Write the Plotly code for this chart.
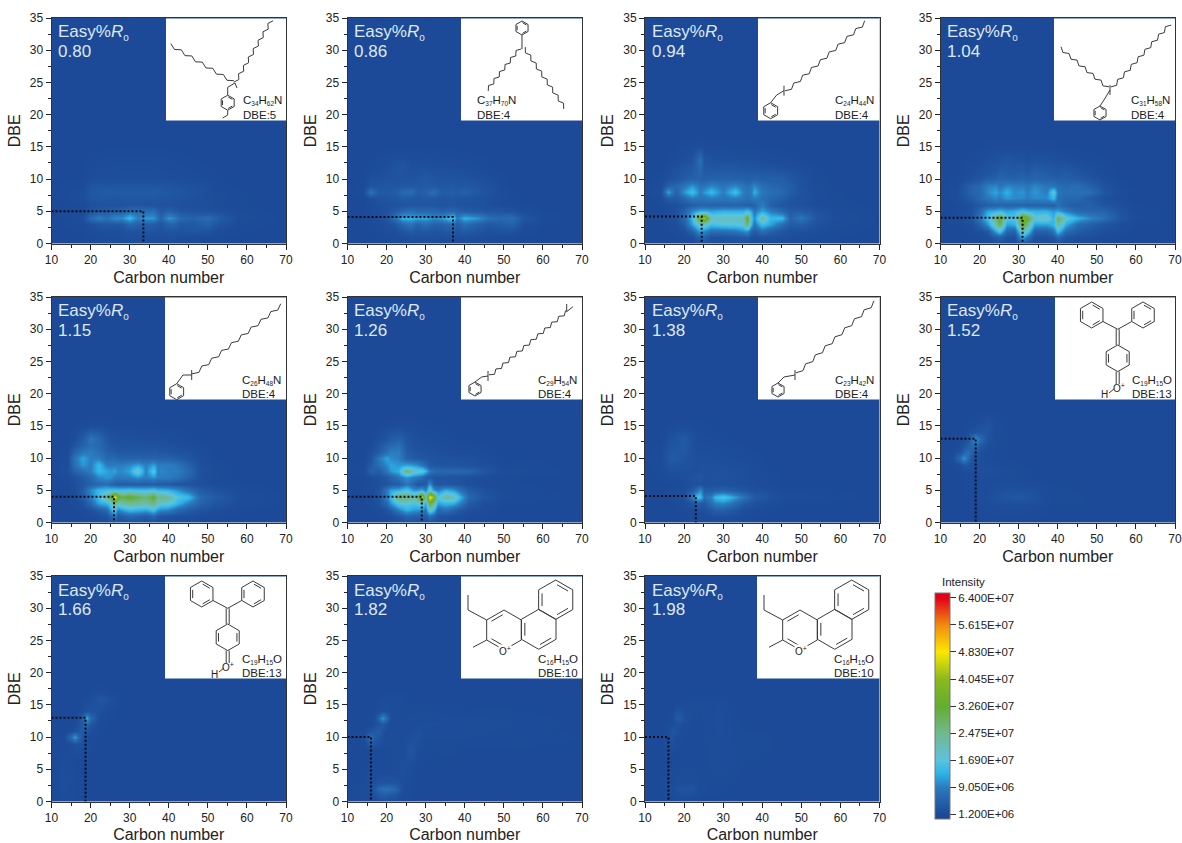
import math
import plotly.graph_objects as go

W, H = 1182, 843
BASE = 1.2

RO = ["0.80", "0.86", "0.94", "1.04", "1.15", "1.26", "1.38", "1.52", "1.66", "1.82", "1.98"]
FORMULA = ["C<sub>34</sub>H<sub>62</sub>N", "C<sub>37</sub>H<sub>70</sub>N", "C<sub>24</sub>H<sub>44</sub>N",
           "C<sub>31</sub>H<sub>58</sub>N", "C<sub>26</sub>H<sub>48</sub>N", "C<sub>29</sub>H<sub>54</sub>N",
           "C<sub>23</sub>H<sub>42</sub>N", "C<sub>19</sub>H<sub>15</sub>O", "C<sub>19</sub>H<sub>15</sub>O",
           "C<sub>16</sub>H<sub>15</sub>O", "C<sub>16</sub>H<sub>15</sub>O"]
MARK_DBE = [5, 4.1, 4.2, 4, 4, 4, 4.1, 13, 13, 10, 10]
MARK_DBE_LABEL = [5, 4, 4, 4, 4, 4, 4, 13, 13, 10, 10]
MARK_C = [33.5, 37, 24.5, 31, 26, 29, 23, 19, 18.7, 16, 16]

COLORBAR_TICKS = [1.2e6, 9.05e6, 1.69e7, 2.475e7, 3.26e7, 4.045e7, 4.83e7, 5.615e7, 6.4e7]
COLORBAR_TEXT = ["1.200E+06", "9.050E+06", "1.690E+07", "2.475E+07", "3.260E+07",
                 "4.045E+07", "4.830E+07", "5.615E+07", "6.400E+07"]

# intensities in units of 1e6, rows keyed by DBE; a row may stop early (the rest is background)
C1 = [10, 18, 20, 22, 24, 26, 28, 30, 32, 34, 36, 38, 40, 41, 43, 46, 50, 53, 58, 70]
Z1 = {
 0: [1.2,1.2,1.3,1.4,1.4,1.4,1.5,1.8,1.8,1.7,1.5,1.4,1.4,1.4,1.3,1.3],
 1: [1.2,1.2,1.4,1.5,1.6,1.6,1.7,2,2,2,1.9,1.8,2,2,1.8,1.6,1.4,1.3],
 2: [1.2,1.3,1.6,1.8,2,2,2.2,2.5,2.5,3,2.8,2.4,2.8,3,2.5,3,2.5,1.5,1.3],
 3: [1.2,1.4,2.5,3,3.5,3.5,3.5,6,5,4.5,4,3,5,5.5,3.5,3.5,5,2.5,1.4],
 4: [1.2,1.8,6,9,7,10,10,14,9,11,11,5,11,10,6,5,6.5,4,1.6],
 5: [1.2,1.5,3,4,4,5,5,7,7,6.5,7,3.5,5,4.5,3,2.6,2.5,2,1.4],
 6: [1.2,1.4,2,2.5,2.5,2.6,2.6,2.8,2.8,2.6,2.8,2.5,2.5,2.4,2.2,2,1.8,1.5,1.3],
 7: [1.2,1.7,3,3.2,3.2,3.2,3.2,3.2,3.2,3.2,3.2,3,3,2.8,2.6,2.2,1.8,1.5,1.3],
 8: [1.2,1.7,3.4,3.6,4,3.6,4,3.8,4,3.8,4,3.8,3.4,3.2,3,2.4,1.9,1.5,1.3],
 9: [1.2,1.5,2.8,3,3,3,3,3,3,3,3,3,2.8,2.6,2.5,2.2,1.8,1.4],
 10: [1.2,1.3,1.8,2,2,2,2.1,2.1,2.1,2.1,2,2,2,1.9,1.8,1.6,1.4,1.3],
 12: [1.2,1.2,1.5,1.6,1.7,1.7,1.7,1.7,1.7,1.7,1.7,1.6,1.6,1.5,1.5,1.4,1.3],
 14: [1.2,1.2,1.3,1.3,1.4,1.4,1.4,1.4,1.4,1.4,1.4,1.4,1.3,1.3,1.3],
}

C2 = [10, 14, 16, 18, 20, 22, 24, 26, 28, 30, 32, 34, 37, 38, 40, 43, 46, 49, 52, 55, 60, 70]
Z2 = {
 0: [1.2,1.2,1.2,1.2,1.3,1.4,1.5,1.6,1.7,1.7,1.7,1.6,1.6,1.5,1.4,1.4,1.3],
 1: [1.2,1.2,1.2,1.3,1.4,1.6,1.8,2.2,2.2,2.2,2.2,2,2.2,2,2,1.8,1.6,1.5,1.4],
 2: [1.2,1.2,1.3,1.4,1.7,2,3,4,3,3.5,3,3,4,3,4,3,2.2,2.5,2.5,1.5],
 3: [1.2,1.2,1.4,1.6,2,3,6,8,5,7,5,5,7,4,7,5,3.5,4,5,2,1.3],
 4: [1.2,1.3,1.5,2,3,7,13,13,12,12,10,11,16,8,13,11,7,6,7,3,1.4],
 5: [1.2,1.2,1.5,1.8,2.5,4,6,7,6,6,6,5,6,5,4,3.5,3,3,2.5,1.8,1.3],
 6: [1.2,1.2,1.5,1.8,2.2,2.6,2.8,3,3,3,3,2.8,3,2.8,2.6,2.4,2,1.7,1.5,1.3],
 7: [1.2,1.3,2.2,2.6,3,3.4,3.8,3.6,3.4,3.6,3.4,3.2,3.2,3,3,2.6,2,1.7,1.4],
 8: [1.2,1.5,8,3.5,3.5,4,6,7,4,5,7,4,4.5,4,5,3.5,2.4,1.8,1.4],
 9: [1.2,1.4,3,3,3.2,3.2,3.5,3.6,3.6,3.6,3.6,3.4,3.6,3.2,3.6,3,2.2,1.6],
 10: [1.2,1.3,2,2.2,2.5,2.6,2.8,2.8,3,3.5,3,2.8,2.8,2.6,2.6,2.2,1.8,1.4],
 12: [1.2,1.2,1.4,1.6,1.8,2.6,3,2,2,2.2,2,1.8,1.8,1.7,1.6,1.5,1.4],
 14: [1.2,1.2,1.2,1.3,1.4,1.5,1.5,1.5,1.5,1.5,1.5,1.4,1.4,1.3,1.3],
}

C3 = [10, 14, 16, 18, 20, 22, 24, 25, 27, 30, 33, 35, 36, 37, 38, 40, 42, 45, 47, 50, 54, 58, 70]
Z3 = {
 0: [1.2,1.2,1.2,1.2,1.3,1.5,2.2,2.5,1.8,1.7,1.8,2,2,1.7,1.6,1.7,1.5,1.4,1.3,1.3],
 1: [1.2,1.2,1.2,1.3,1.5,2,5,5,2.5,2.4,3,3.5,4,2.4,2,2.6,2.2,2,1.8,1.6,1.4,1.3],
 2: [1.2,1.2,1.3,1.5,2,5,12,10,7,7,8,10,11,6,4,7,5,3,2.4,2.2,1.7,1.4],
 3: [1.2,1.2,1.4,1.8,4,12,20,20,15,17,17,18,28,14,8,15,12,7,4,4.5,2.5,1.6],
 4: [1.2,1.4,1.8,2.5,6,14,36,42,20,20,20,20,34,16,10,23,14,14,5,8,3,1.8],
 5: [1.2,1.3,1.6,2.2,5,10,13,13,12,13,13,13,15,12,8,12,9,6,4,4,2.4,1.6],
 6: [1.2,1.3,1.7,2.2,3,4,5,5,5,5,5,5,5,4.5,5,9,4.5,3,2.6,2.2,1.7,1.4],
 7: [1.2,1.5,4,4,6,9,8,8,9,8,9,8,7,8,9,7,6,4.5,3,2.4,1.6,1.3],
 8: [1.2,2,12,5,11,15,9,11,14,9,15,9,8,9,13,8,7,6,4,2.6,1.6,1.3],
 9: [1.2,1.6,5,6,8,11,8,8,10,8,10,8,7,8,10,7,6,5,4,2.4,1.5],
 10: [1.2,1.4,2.2,3,4,5,5,4.5,5,5,5,5,4.5,4.5,5,4.5,4.5,4.5,3.5,2.2,1.4],
 12: [1.2,1.2,1.5,2,2.6,3.2,6,3.5,3,3,3,2.8,2.8,2.8,2.6,2.4,2.2,2,1.8,1.5,1.3],
 13: [1.2,1.2,1.3,1.5,2,2.5,7,3,2.4,2.2,2.2,2,2,2,2,1.8,1.7,1.6,1.5,1.3],
 15: [1.2,1.2,1.2,1.3,1.5,1.6,1.8,1.6,1.5,1.5,1.4,1.4,1.4,1.4,1.3,1.3],
}

C4 = [10, 14, 18, 20, 22, 24, 25, 27, 29, 31, 32, 34, 37, 39, 40, 42, 45, 48, 52, 56, 60, 70]
Z4 = {
 0: [1.2,1.2,1.2,1.3,1.4,1.8,1.8,1.6,1.5,2.5,2,1.5,1.5,1.6,1.8,1.5,1.4,1.3],
 1: [1.2,1.2,1.3,1.4,1.8,4,5,2.4,2.2,13,8,2.2,2.2,3,6,3,2.2,1.8,1.5,1.3],
 2: [1.2,1.2,1.5,2,3.5,12,16,6,5,22,18,5,5,8,15,7,4,3,2,1.5],
 3: [1.2,1.3,2,5,11,22,30,12,13,34,26,12,12,14,24,13,7,5,3,1.8,1.3],
 4: [1.2,1.4,3,8,15,25,36,17,16,40,35,18,20,13,30,18,13,10,7,3,1.5],
 5: [1.2,1.3,2.4,6,12,13,14,12,13,16,14,13,13,11,12,9,6,5.5,5,2.6,1.4],
 6: [1.2,1.3,2.4,3.6,4.5,5,5.5,5,5,5.5,5,5,5,4.5,7,5,4,4.5,3,2,1.3],
 7: [1.2,1.6,4,6,8,10,9,11,10,10,9,10,10,14,7,6,6,4,2.2,1.5],
 8: [1.2,1.8,5,6,10,12,10,13,10,11,9,11,9,18,8,7,7,7,3,1.6,1.3],
 9: [1.2,1.5,5,6,9,10,8,10,9,9,8,10,8,8,7,6,7,5,2.4,1.4],
 10: [1.2,1.4,2.4,3,4.5,5,6,5.5,5,5.5,5,5.5,5,5,4.5,4.5,4,3,1.8,1.3],
 11: [1.2,1.2,1.8,2.4,3,3.5,4.5,4,4,4.5,3.5,5,4,3.5,3.5,4,3,2,1.5],
 13: [1.2,1.2,1.4,1.6,2,2.2,2.5,3,2.4,2.6,2.2,2.4,2.4,2.2,2,1.8,1.6,1.4,1.3],
 15: [1.2,1.2,1.2,1.3,1.4,1.5,1.5,1.5,1.5,1.5,1.5,1.4,1.4,1.4,1.3],
}

C5 = [10, 14, 16, 18, 20, 22, 24, 25, 26, 27, 28, 30, 32, 34, 36, 37, 38, 40, 42, 45, 48, 52, 58, 70]
Z5 = {
 0: [1.2,1.2,1.2,1.2,1.3,1.5,1.7,2,2.6,1.9,1.8,1.9,1.8,1.7,1.8,1.6,1.5,1.4,1.3,1.3],
 1: [1.2,1.2,1.2,1.3,1.5,2,2.5,5,9,4,4,6,5,4,6,3.5,3,2.6,2.2,1.8,1.5,1.3],
 2: [1.2,1.2,1.3,1.5,2.2,4,6,12,17,9,11,14,13,12,15,11,10,9,6,4,2.5,1.8,1.3],
 3: [1.2,1.2,1.5,2.5,6,12,14,17,28,20,22,24,23,22,26,20,18,18,14,9,5,3,1.6],
 4: [1.2,1.3,1.8,4,9,15,24,33,50,36,30,34,30,27,33,24,26,24,17,14,6,4,1.8],
 5: [1.2,1.2,1.7,4,10,14,15,15,16,15,15,16,15,15,16,14,14,13,11,7,4,2.5,1.5],
 6: [1.2,1.3,2,3,5,6,7,5.5,4.5,4,4,4,4,4,4,3.8,3.8,3.5,3,2.5,2,1.6,1.3],
 7: [1.2,1.4,2.5,4,6,10,11,11,9,9,9,9,11,9,11,9,9,9,8,5,2,1.5],
 8: [1.2,2,5,7,9,14,12,11,12,10,10,12,20,9,17,9,10,9,9,6,2.2,1.5],
 9: [1.2,1.7,7,11,9,14,9,9,9,9,9,10,12,9,12,9,9,9,8,5,2,1.4],
 10: [1.2,1.6,8,12,9,9,6,6,6,5,5,5,5,5,5,5,5,5,4,3,1.8,1.3],
 11: [1.2,1.4,5,8,9,7,5,4.5,4,3.5,3.5,3.5,3.5,3.5,3.5,3.5,3,3,2.6,2.2,1.6],
 12: [1.2,1.3,3,5,7,6,4,3,3,2.6,2.6,2.6,2.6,2.4,2.4,2.4,2.2,2.2,2,1.7,1.4],
 13: [1.2,1.2,2,4,8,6,3.5,2.6,2.4,2.2,2.2,2.2,2,2,2,1.9,1.8,1.7,1.6,1.4],
 15: [1.2,1.2,1.3,1.5,1.7,1.8,1.7,1.6,1.6,1.5,1.5,1.5,1.4,1.4,1.4,1.3],
}

C6 = [10, 14, 16, 18, 20, 21, 23, 25, 27, 28, 29, 30, 31, 32, 33, 35, 37, 39, 41, 45, 50, 70]
Z6 = {
 0: [1.2,1.2,1.2,1.2,1.3,1.4,1.6,1.9,1.8,1.7,1.8,1.7,2,1.8,1.6,1.5,1.4,1.3,1.3],
 1: [1.2,1.2,1.2,1.3,1.6,1.8,3,5.5,5,4.5,4.5,4,7,5,3,2.6,2.2,1.8,1.5,1.3],
 2: [1.2,1.2,1.3,1.5,2.5,4,9,13,11,11,10,8,19,14,6,7,5,3,2.2,1.5],
 3: [1.2,1.2,1.5,2.5,6,11,17,18,16,17,20,13,32,25,12,14,13,9,4,2,1.3],
 4: [1.2,1.3,1.8,3,9,14,29,27,25,27,48,20,50,40,17,23,21,13,6,3,1.5],
 5: [1.2,1.2,1.5,2.5,8,12,13,16,11,11,13,9,20,11,9,13,11,7,4,2.2,1.4],
 6: [1.2,1.2,1.5,2,3,3.5,4,8,5,3,3,4,11,4,3,3,3,2.5,2,1.6,1.3],
 7: [1.2,1.3,1.8,2.5,3.5,5,8,11,9,8,7,4,3.5,3,3,2.8,2.6,2.4,2,1.6,1.3],
 8: [1.2,1.6,5,4,8,11,13,27,20,18,18,14,8,7,6,6,6,6,5.5,3,1.6],
 9: [1.2,1.4,3.5,7,10,12,11,12,11,10,8,6,3.6,3.2,3,3,3,2.8,2.4,2,1.4],
 10: [1.2,1.3,2.5,8,12,10,9,5,4,3.5,3,3,2.8,2.6,2.4,2.4,2.2,2,2,1.6,1.3],
 11: [1.2,1.2,1.8,4,7,9,9,4,3,2.8,2.6,2.4,2.2,2.2,2,2,1.8,1.7,1.6,1.4],
 12: [1.2,1.2,1.5,3,5,6,7,3.5,2.6,2.4,2,2,2,1.9,1.8,1.7,1.6,1.5,1.4,1.3],
 13: [1.2,1.2,1.3,2,3,4,5,3,2.2,2,1.8,1.8,1.7,1.7,1.6,1.5,1.4,1.3],
 15: [1.2,1.2,1.2,1.3,1.5,1.6,1.7,1.7,1.6,1.5,1.5,1.4,1.4,1.4,1.3,1.3],
}

C7 = [10, 14, 17, 20, 22, 23, 24, 25, 27, 28, 30, 32, 35, 38, 42, 46, 70]
Z7 = {
 0: [1.2,1.2,1.2,1.2,1.3,1.3,1.3,1.3,1.4,1.4,1.4,1.4,1.3],
 1: [1.2,1.2,1.2,1.3,1.4,1.5,1.5,1.6,1.9,2,2,1.8,1.5,1.3],
 2: [1.2,1.2,1.2,1.4,1.7,2,2,2.2,3.5,4.5,4.5,3.5,2,1.5,1.3],
 3: [1.2,1.2,1.3,1.6,3,4,4,3.5,7,9,10,8,4,2.5,1.6,1.3],
 4: [1.2,1.2,1.4,2,8,15,15,7,9,14,16,13,8,4,2.5,1.6],
 5: [1.2,1.2,1.3,1.7,3.5,6,10,4,4,4.5,5,4,3,2.2,1.8,1.4],
 6: [1.2,1.2,1.3,1.6,2,2,2.4,2,2.2,2.2,2.2,2.1,2,1.7,1.4],
 7: [1.2,1.3,1.6,1.9,2.4,2.8,3,2.2,2.2,2.4,2.4,2.2,2,1.7,1.4],
 8: [1.2,1.4,2,2,2,2,2.2,2.2,2.3,2.3,2.2,2,2,1.6,1.3],
 10: [1.2,1.6,4,3,2.2,2,2,2,2,2,1.8,1.7,1.6,1.4],
 12: [1.2,1.3,3,3.5,2.2,1.8,1.7,1.7,1.7,1.6,1.5,1.4,1.3],
 13: [1.2,1.2,2.5,3.8,2.2,1.7,1.6,1.5,1.5,1.4,1.4,1.3],
 15: [1.2,1.2,1.4,1.6,1.5,1.4,1.4,1.3,1.3,1.3],
}

C8 = [10, 13, 15, 16, 17, 18, 19, 20, 22, 24, 27, 30, 33, 36, 40, 70]
Z8 = {
 2: [1.2,1.2,1.2,1.2,1.2,1.3,1.3,1.4,1.5,1.6,1.6,1.6,1.5,1.4],
 3: [1.2,1.2,1.2,1.2,1.3,1.3,1.4,1.5,1.6,1.9,2,2.2,2,1.6,1.3],
 4: [1.2,1.2,1.2,1.2,1.3,1.4,1.4,1.5,1.8,2.4,3,3.5,2.8,1.8,1.3],
 5: [1.2,1.2,1.2,1.3,1.3,1.4,1.4,1.5,1.6,1.9,2.2,2.2,2,1.6,1.3],
 7: [1.2,1.2,1.3,1.4,1.5,1.5,1.6,1.6,1.7,1.6,1.5,1.4,1.3],
 8: [1.2,1.2,1.4,1.6,1.7,1.7,1.8,2,2.2,2,1.6,1.4,1.3],
 9: [1.2,1.3,2,3,3,2.2,2,1.9,1.8,1.6,1.4,1.3],
 10: [1.2,1.6,7,11,7,3,2.2,1.9,1.6,1.4,1.3],
 11: [1.2,1.3,2.5,5,7,5,3,2,1.6,1.4,1.3],
 12: [1.2,1.2,1.6,2.5,4,6,7,4,2,1.5,1.3],
 13: [1.2,1.2,1.4,1.8,2.5,7,11,7,2.6,1.5,1.3],
 14: [1.2,1.2,1.2,1.4,1.7,2.2,3,3,3,1.6,1.3],
 15: [1.2,1.2,1.2,1.3,1.4,1.6,1.8,2.2,3,1.7,1.3],
 16: [1.2,1.2,1.2,1.2,1.3,1.3,1.5,1.6,2,1.5,1.3],
}

C9 = [10, 13, 15, 16, 17, 18, 19, 20, 22, 23, 25, 28, 70]
Z9 = {
 1: [1.2,1.7,1.6,1.4,1.3,1.3,1.3],
 4: [1.2,1.8,1.7,1.5,1.3,1.3],
 6: [1.2,1.5,1.4,1.3],
 9: [1.2,1.3,1.6,2.4,2.2,2,1.6,1.4],
 10: [1.2,1.5,7,12,6,3,1.8,1.4,1.3],
 11: [1.2,1.2,1.8,2.5,3,4,3,2,1.4],
 12: [1.2,1.2,1.3,1.6,2.4,4,6,3,1.7,1.4],
 13: [1.2,1.2,1.2,1.4,1.9,5,13,6,2,1.5,1.3],
 14: [1.2,1.2,1.2,1.2,1.4,1.7,2.4,2.6,2.2,1.8,1.4],
 16: [1.2,1.2,1.2,1.2,1.2,1.3,1.4,1.8,3,3,2,1.3],
 17: [1.2,1.2,1.2,1.2,1.2,1.2,1.3,1.4,1.6,1.5,1.3],
}

C10 = [10, 14, 16, 17, 18, 19, 20, 21, 22, 24, 26, 28, 30, 70]
Z10 = {
 0: [1.2,1.4,1.4,1.5,1.6,1.6,1.5,1.4,1.3],
 1: [1.2,1.6,1.8,2.4,3.5,4,4,3.5,3,1.5,1.3],
 2: [1.2,1.5,2,3.5,6,7,7,6.5,6,1.8,1.4],
 3: [1.2,1.5,1.7,2,2.4,2.5,2.5,2.6,2.6,1.8,1.4],
 5: [1.2,1.3,1.3,1.3,1.4,1.4,1.4,1.5,1.5,2.2,1.6,1.3],
 7: [1.2,1.2,1.3,1.3,1.3,1.3,1.4,1.4,1.5,1.7,2.6,1.5,1.3],
 8: [1.2,1.2,1.3,1.3,1.3,1.4,1.4,1.4,1.5,1.6,3,1.7,1.3],
 10: [1.2,1.6,7,4,3,2,1.6,1.5,1.5,1.6,1.8,2.4,1.5,1.3],
 11: [1.2,1.3,2.5,3.5,4,2.5,1.7,1.5,1.5,1.6,1.7,2.2,1.6],
 12: [1.2,1.2,1.4,2,2.6,3.5,2.4,1.6,1.5,1.5,1.6,1.7,1.8],
 13: [1.2,1.2,1.4,1.8,5,11,6,2,1.5,1.4,1.5,1.5,1.6],
 14: [1.2,1.2,1.2,1.4,1.6,2,2,1.7,1.5,1.4,1.4,1.4,1.4],
 16: [1.2,1.2,1.2,1.2,1.3,1.4,1.5,1.6,1.7,1.5,1.3],
}

C11 = [10, 14, 16, 17, 18, 19, 20, 22, 24, 27, 29, 32, 35, 70]
Z11 = {
 1: [1.2,1.3,1.4,1.5,1.7,1.9,2,1.8,1.4,1.3,1.3],
 2: [1.2,1.3,1.5,1.7,2.4,2.8,2.6,2.8,1.6,1.4,1.3,1.3],
 3: [1.2,1.3,1.3,1.4,1.5,1.6,1.6,1.6,1.4,1.4,1.4,1.3],
 7: [1.2,1.2,1.2,1.2,1.3,1.3,1.3,1.3,1.3,1.5,1.6,1.6,1.3],
 10: [1.2,1.3,2,2.4,1.8,1.6,1.4,1.4,1.4,1.5,1.7,1.4,1.3],
 11: [1.2,1.2,1.6,2.8,2.4,1.7,1.5,1.4,1.4,1.6,1.8,1.5,1.3],
 12: [1.2,1.2,1.3,1.5,2,2,1.6,1.4,1.4,1.6,1.9,1.4],
 13: [1.2,1.2,1.3,1.5,3.5,3.8,2.2,1.5,1.4,1.6,1.9,1.4],
 15: [1.2,1.2,1.2,1.2,1.3,1.4,1.5,1.6,1.5,1.6,1.7,1.3],
}

CARBONS = [C1, C2, C3, C4, C5, C6, C7, C8, C9, C10, C11]
MATRICES = [Z1, Z2, Z3, Z4, Z5, Z6, Z7, Z8, Z9, Z10, Z11]

# plot rectangles in page pixels: left, top
COL_L = [51.5, 347.5, 645, 940.5]
ROW_T = [18, 297, 576]
PANEL_W, PANEL_H = 234.5, 225.5
INSET_L = [166, 461, 758, 1054, 165, 461, 758, 1055, 165, 461, 757]
LABEL_POS = [(75, 83, 97), (14, 83, 97), (75, 83, 97), (75, 83, 97), (75, 83, 97), (75, 83, 97),
             (75, 83, 97), (75, 83, 97), (75, 83, 97), (75, 83, 97), (75, 83, 97)]

# colour stops, value in units of 1e6
CMIN, CMAX = -0.25, 65.45
STOPS = [(-0.25, "#1b4795"), (1.2, "#1c4a98"), (5, "#2562ab"), (9.05, "#2b7cc0"), (13, "#2cb4ea"),
         (16.9, "#5cc3de"), (24.75, "#70b98e"), (32.6, "#63ad30"), (40.45, "#8cba1c"),
         (48.3, "#fbe800"), (56.15, "#f28a10"), (64, "#e2001a"), (65.45, "#de0019")]
colorscale = [[(v - CMIN) / (CMAX - CMIN), c] for v, c in STOPS]


def px(x):
    return x / W


def py(y):
    return 1 - y / H


def pl(points):
    return "M" + " L".join(f"{px(x):.5f},{py(y):.5f}" for x, y in points)


def zigzag(x0, y0, x1, y1, n, amp=1.6):
    dx, dy = x1 - x0, y1 - y0
    L = math.hypot(dx, dy)
    nx, ny = -dy / L, dx / L
    pts = []
    for i in range(n + 1):
        t = i / n
        s = amp * (1 if i % 2 else -1)
        pts.append((x0 + dx * t + nx * s, y0 + dy * t + ny * s))
    return [pts]


def line(*pts):
    return [list(pts)]


def hexagon(cx, cy, r, doubles=(0, 2, 4)):
    v = [(cx + r * math.cos(math.radians(-90 + 60 * i)), cy + r * math.sin(math.radians(-90 + 60 * i))) for i in range(6)]
    out = [v + [v[0]]]
    for i in doubles:
        a, b = v[i], v[(i + 1) % 6]
        k = 0.8
        a2 = (cx + (a[0] - cx) * k, cy + (a[1] - cy) * k)
        b2 = (cx + (b[0] - cx) * k, cy + (b[1] - cy) * k)
        out.append([(a2[0] + (b2[0] - a2[0]) * .1, a2[1] + (b2[1] - a2[1]) * .1),
                    (a2[0] + (b2[0] - a2[0]) * .9, a2[1] + (b2[1] - a2[1]) * .9)])
    return out


def benzyl(rx, ry, r, lx, ly, nx, ny):
    return hexagon(rx, ry, r) + line((rx, ry - r), (lx, ly), (nx, ny)) + line((nx, ny - 5), (nx, ny + 5))


def trityl():
    return (hexagon(36.7, 18, 13) + hexagon(88, 18, 13) + hexagon(62.7, 61.3, 13.3, (1, 4))
            + line((48, 24.5), (62.7, 32.3), (76.7, 24.5))
            + line((61.2, 32.3), (61.2, 48)) + line((64.2, 32.3), (64.2, 48))
            + line((61.2, 74.6), (61.2, 87)) + line((64.2, 74.6), (64.2, 87))
            + line((54, 96), (59, 92)))


def chromenyl():
    return (hexagon(94.7, 23.7, 19.7, (0, 2, 4)) + hexagon(77.7, 53.3, 20, (2, 4)) + hexagon(43, 54, 20, (3, 5))
            + line((25.7, 44), (7, 34), (7, 19)) + line((25.7, 64), (12, 71.3)))


MOLECULES = [
    zigzag(4, 27, 67, 64, 12) + zigzag(69, 65, 105.7, 2, 15) + hexagon(61.7, 84.7, 7.5)
    + line((69, 65), (61.7, 69.3), (61.7, 77)) + line((61.7, 92.3), (61.7, 97), (56.7, 100)) + line((69, 65), (71, 70)),
    hexagon(61, 10, 7) + line((61, 17), (61, 31)) + zigzag(59, 30, 26, 72, 12) + zigzag(63, 30, 104, 90, 15),
    benzyl(12.7, 92.7, 8, 18.7, 77, 26, 72.7) + zigzag(28, 74, 107.7, 4, 18),
    benzyl(46, 95, 7, 50, 82, 56, 72) + zigzag(6, 30, 54, 70, 12) + zigzag(58, 70, 116, 6, 17),
    benzyl(11.7, 94.7, 8, 18, 78, 26.7, 78) + zigzag(28, 78, 116.7, 8, 18),
    benzyl(14, 92, 7, 20.7, 80, 27, 79) + zigzag(29, 79, 105.7, 14.7, 22) + line((105.7, 7), (105.7, 14.7), (112, 9.7)),
    benzyl(20, 93, 7, 26, 80, 37, 78) + zigzag(39, 77, 117, 5, 16),
    trityl(), trityl(), chromenyl(), chromenyl(),
]
ATOM_TEXT = [None] * 7 + [True, True, False, False]

fig = go.Figure()
shapes, annotations, axes = [], [], {}
FONT = "Liberation Sans, Arial, sans-serif"


def small_sub(text, size):
    return text.replace("<sub>", f'<sub><span style="font-size:{size}px">').replace("</sub>", "</span></sub>")


for k in range(11):
    row, col = k // 4, k % 4
    left, top = COL_L[col], ROW_T[row]
    right, bottom = left + PANEL_W, top + PANEL_H
    suffix = "" if k == 0 else str(k + 1)
    common = dict(ticks="outside", ticklen=5, tickwidth=1, tickcolor="#222", showline=True, linecolor="#333",
                  linewidth=1, mirror=True, showgrid=False, zeroline=False, automargin=False,
                  tickfont=dict(size=12, color="#222", family=FONT), title_font=dict(size=16, color="#222", family=FONT))
    axes["xaxis" + suffix] = dict(domain=[px(left), px(right)], anchor="y" + suffix, range=[10, 70], tick0=10, dtick=10,
                                  minor=dict(tick0=10, dtick=5, ticks="outside", ticklen=3, tickcolor="#222"),
                                  title=dict(text="Carbon number", standoff=5), **common)
    axes["yaxis" + suffix] = dict(domain=[py(bottom), py(top)], anchor="x" + suffix, range=[0, 35], tick0=0, dtick=5,
                                  minor=dict(tick0=0, dtick=2.5, ticks="outside", ticklen=3, tickcolor="#222"),
                                  title=dict(text="DBE", standoff=5), **common)

    carbons, rows = CARBONS[k], MATRICES[k]
    n = len(carbons)
    levels = sorted(rows)
    z, y = [], []
    if levels[0] > 0:
        y.append(0)
        z.append([BASE * 1e6] * n)
    for lev in levels:
        vals = (rows[lev] + [BASE] * n)[:n]
        y.append(lev)
        z.append([v * 1e6 for v in vals])
    for lev in (levels[-1] + 1.5, 35):
        y.append(lev)
        z.append([BASE * 1e6] * n)
    fig.add_trace(go.Heatmap(x=carbons, y=y, z=z, coloraxis="coloraxis", zsmooth="best",
                             xaxis="x" + suffix, yaxis="y" + suffix, name="Easy%Ro " + RO[k]))
    fig.add_trace(go.Scatter(x=[10, MARK_C[k], MARK_C[k]], y=[MARK_DBE[k], MARK_DBE[k], 0], mode="lines",
                             line=dict(color="#0b0b14", width=2, dash="2px,2px"), showlegend=False,
                             xaxis="x" + suffix, yaxis="y" + suffix))

    il = INSET_L[k]
    ih = 102.5
    shapes.append(dict(type="rect", xref="paper", yref="paper", layer="above", x0=px(il), x1=px(right), y0=py(top + 0.5),
                       y1=py(top + ih), fillcolor="white", line=dict(width=0)))
    path = " ".join(pl([(il + x, top + y_) for x, y_ in seg]) for seg in MOLECULES[k])
    shapes.append(dict(type="path", xref="paper", yref="paper", layer="above", path=path,
                       line=dict(color="#3a3a3a", width=1)))

    lx, ly1, ly2 = LABEL_POS[k]
    annotations += [
        dict(text=small_sub("Easy%<i>R</i><sub>o</sub>", 10), x=px(left + 4.5), y=py(top + 15), xanchor="left", yanchor="middle", font=dict(size=17, color="#dfe8f4", family=FONT)),
        dict(text=RO[k], x=px(left + 4.5), y=py(top + 33.5), xanchor="left", yanchor="middle", font=dict(size=17, color="#dfe8f4", family=FONT)),
        dict(text=small_sub(FORMULA[k], 6.5), x=px(il + lx), y=py(top + ly1), xanchor="left", yanchor="middle", font=dict(size=11.5, color="#222", family=FONT)),
        dict(text=f"DBE:{MARK_DBE_LABEL[k]}", x=px(il + lx), y=py(top + ly2), xanchor="left", yanchor="middle", font=dict(size=11.5, color="#222", family=FONT)),
    ]
    if ATOM_TEXT[k] is True:
        annotations += [
            dict(text="O<sup>+</sup>", x=px(il + 63.5), y=py(top + 90.5), xanchor="center", yanchor="middle", font=dict(size=10, color="#222", family=FONT)),
            dict(text="H", x=px(il + 49.5), y=py(top + 98), xanchor="center", yanchor="middle", font=dict(size=10, color="#222", family=FONT)),
        ]
    elif ATOM_TEXT[k] is False:
        annotations.append(dict(text="O<sup>+</sup>", x=px(il + 44), y=py(top + 74.5), xanchor="center", yanchor="middle", bgcolor="white", borderpad=0, font=dict(size=10, color="#222", family=FONT)))

annotations.append(dict(text="Intensity", x=px(940), y=py(581.5), xanchor="left", yanchor="middle", font=dict(size=11.5, color="#222", family=FONT)))

for a in annotations:
    a.update(xref="paper", yref="paper", showarrow=False)

fig.update_layout(
    width=W, height=H, margin=dict(l=0, r=0, t=0, b=0), paper_bgcolor="white", plot_bgcolor="#1c4a98",
    showlegend=False, shapes=shapes, annotations=annotations, font=dict(family=FONT),
    coloraxis=dict(cmin=CMIN * 1e6, cmax=CMAX * 1e6, colorscale=colorscale,
                   colorbar=dict(thickness=15, thicknessmode="pixels", len=226, lenmode="pixels",
                                 x=px(935), xanchor="left", xpad=0, y=py(819), yanchor="bottom", ypad=0,
                                 outlinecolor="#777", outlinewidth=1, ticks="outside", ticklen=6, tickcolor="#333",
                                 tickvals=COLORBAR_TICKS, ticktext=COLORBAR_TEXT,
                                 tickfont=dict(size=11.5, color="#222", family=FONT))),
    **axes,
)
fig.write_html("out.html", config={"displayModeBar": False},
               post_script="document.body.style.margin='0';document.documentElement.style.overflow='hidden';")
